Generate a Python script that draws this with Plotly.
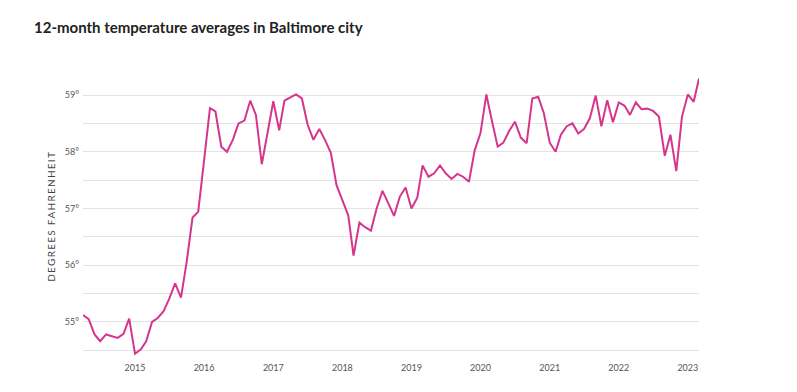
import plotly.graph_objects as go
import pandas as pd

dates = pd.date_range("2014-04-01", "2023-03-01", freq="MS")

temps_2014 = [55.12, 55.05, 54.78, 54.66, 54.78, 54.75, 54.72, 54.79, 55.06]
temps_2015 = [54.44, 54.52, 54.66, 55.00, 55.07, 55.19, 55.41, 55.68, 55.43, 56.06, 56.84, 56.94]
temps_2016 = [57.85, 58.77, 58.71, 58.09, 58.00, 58.21, 58.50, 58.55, 58.90, 58.65, 57.78, 58.33]
temps_2017 = [58.89, 58.38, 58.90, 58.96, 59.01, 58.94, 58.48, 58.21, 58.40, 58.21, 57.98, 57.41]
temps_2018 = [57.15, 56.88, 56.17, 56.75, 56.67, 56.61, 57.00, 57.31, 57.09, 56.87, 57.21, 57.37]
temps_2019 = [57.00, 57.19, 57.76, 57.56, 57.62, 57.76, 57.62, 57.52, 57.61, 57.56, 57.47, 58.02]
temps_2020 = [58.33, 59.01, 58.55, 58.09, 58.16, 58.37, 58.53, 58.25, 58.15, 58.94, 58.97, 58.68]
temps_2021 = [58.16, 58.00, 58.30, 58.45, 58.50, 58.32, 58.40, 58.59, 58.99, 58.45, 58.91, 58.52]
temps_2022 = [58.87, 58.81, 58.65, 58.87, 58.75, 58.76, 58.72, 58.62, 57.93, 58.30, 57.66, 58.62]
temps_2023 = [59.01, 58.88, 59.29]

temps = (temps_2014 + temps_2015 + temps_2016 + temps_2017 + temps_2018
         + temps_2019 + temps_2020 + temps_2021 + temps_2022 + temps_2023)

year_ticks = ["2015-01-01", "2016-01-01", "2017-01-01", "2018-01-01", "2019-01-01",
              "2020-01-01", "2021-01-01", "2022-01-01", "2023-01-01"]
year_labels = ["2015", "2016", "2017", "2018", "2019", "2020", "2021", "2022", "2023"]

y_tickvals = [54.5, 55, 55.5, 56, 56.5, 57, 57.5, 58, 58.5, 59]
y_ticktext = ["", "55°", "", "56°", "", "57°", "", "58°", "", "59°"]

y_title = "DEGREES FAHRENHEIT"
# emulate the letter-spacing of the original with thin spaces
y_title_spaced = "\u2009".join(y_title)

fig = go.Figure()
fig.add_trace(go.Scatter(
    x=dates, y=temps, mode="lines",
    line=dict(color="#d6358e", width=2),
    hoverinfo="x+y",
))

fig.update_layout(
    width=797, height=392,
    margin=dict(l=83, r=98, t=78, b=36),
    paper_bgcolor="white", plot_bgcolor="white",
    showlegend=False,
    font=dict(family="Lato, 'Open Sans', sans-serif", color="#555"),
    title=dict(
        text="<b>12-month temperature averages in Baltimore city</b>",
        x=34 / 797, xanchor="left", y=1 - 28 / 392, yanchor="middle",
        font=dict(size=15, color="#222", family="Lato, 'Open Sans', sans-serif"),
    ),
    xaxis=dict(
        range=["2014-04-01", "2023-03-01"],
        tickvals=year_ticks, ticktext=year_labels,
        showgrid=False, zeroline=False, showline=False,
        ticks="", tickfont=dict(size=9, color="#555"),
        ticklabelstandoff=5,
    ),
    yaxis=dict(
        range=[54.4, 59.3],
        tickvals=y_tickvals, ticktext=y_ticktext,
        showgrid=True, gridcolor="#e3e3e3", gridwidth=1,
        zeroline=False, showline=False, ticks="",
        tickfont=dict(size=9, color="#555"),
        ticklabelstandoff=3,
        title=dict(text=y_title_spaced, standoff=7,
                   font=dict(size=10, color="#444")),
    ),
)

fig.write_html("out.html", config={"displayModeBar": False},
               post_script="document.body.style.margin='0';")
